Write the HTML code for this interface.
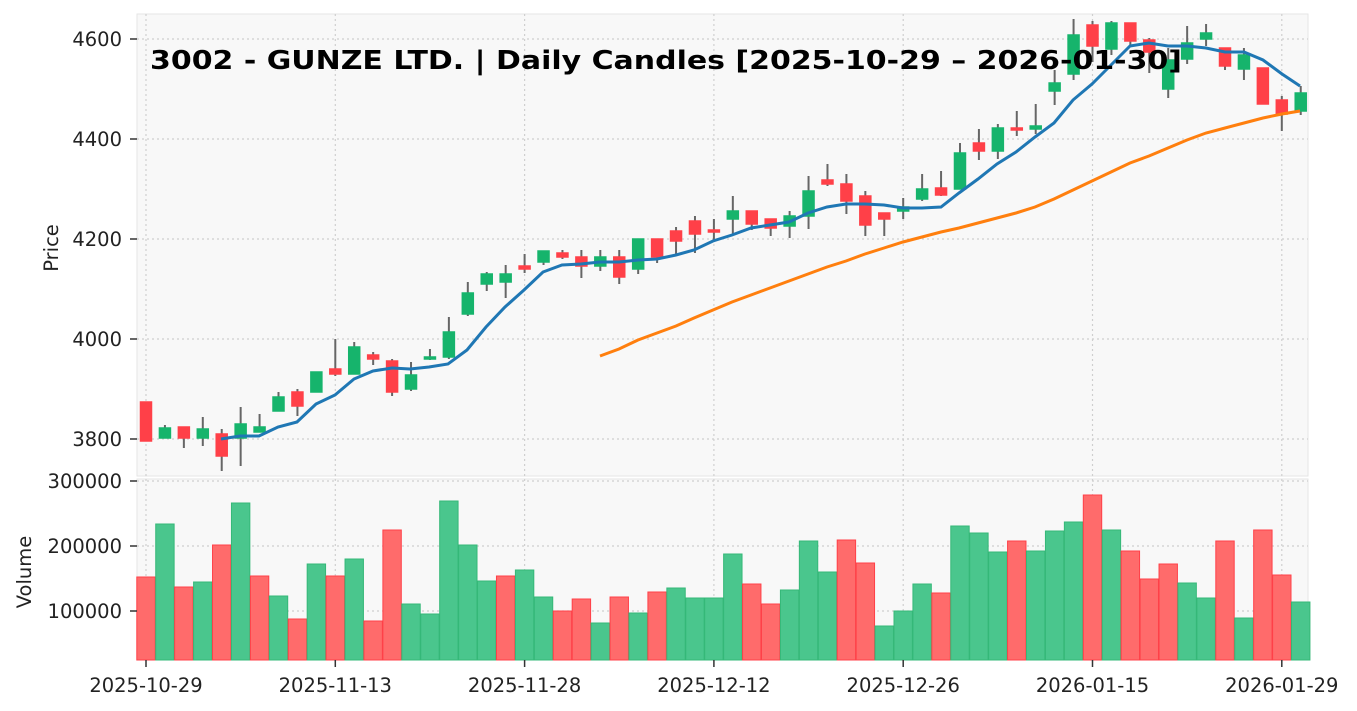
<!DOCTYPE html>
<html><head><meta charset="utf-8"><style>
html,body{margin:0;padding:0;background:#fff;}
svg{display:block;font-family:"DejaVu Sans","Liberation Sans",sans-serif;}
</style></head><body>
<svg id="s" width="1357" height="711" viewBox="0 0 1357 711" xmlns="http://www.w3.org/2000/svg">
<rect x="137" y="14" width="1171" height="462" fill="#f8f8f8" stroke="#e6e6e6"/>
<rect x="137" y="479" width="1171" height="181" fill="#f8f8f8" stroke="#e6e6e6"/>
<g id="grid" stroke="#cfcfcf" stroke-width="1.2" stroke-dasharray="2,3"></g>
<g id="vol"></g>
<g id="cdl"></g>
<polyline id="ma1" fill="none" stroke="#1f77b4" stroke-width="3"/>
<polyline id="ma2" fill="none" stroke="#ff7f0e" stroke-width="3"/>
<g id="lbl" font-size="19.5" fill="#222"></g>
<text x="150" y="69" font-size="26" font-weight="bold" fill="#000" textLength="1032" lengthAdjust="spacingAndGlyphs">3002 - GUNZE LTD. | Daily Candles [2025-10-29 – 2026-01-30]</text>
<text transform="translate(58,248) rotate(-90)" font-size="19.5" text-anchor="middle" fill="#222">Price</text>
<text transform="translate(31,572) rotate(-90)" font-size="19.5" text-anchor="middle" fill="#222">Volume</text>
</svg>
<script>
const NS="http://www.w3.org/2000/svg";
function el(p,t,a,txt){const e=document.createElementNS(NS,t);for(const k in a)e.setAttribute(k,a[k]);if(txt!==undefined)e.textContent=txt;document.getElementById(p).appendChild(e);return e;}
const X=i=>146+i*18.93;
[39,139,239,339,439].forEach(y=>el('grid','line',{x1:137,x2:1308,y1:y,y2:y}));
[481,546,611].forEach(y=>el('grid','line',{x1:137,x2:1308,y1:y,y2:y}));
[0,10,20,30,40,50,60].forEach(i=>{el('grid','line',{x1:X(i),x2:X(i),y1:14,y2:476});el('grid','line',{x1:X(i),x2:X(i),y1:479,y2:660});});
[[39,"4600"],[139,"4400"],[239,"4200"],[339,"4000"],[439,"3800"],[481,"300000"],[546,"200000"],[611,"100000"]].forEach(([y,t])=>{el('lbl','text',{x:122,y:y+7,'text-anchor':'end'},t);el('lbl','line',{x1:130,x2:137,y1:y,y2:y,stroke:'#333','stroke-width':1.5});});
["2025-10-29","2025-11-13","2025-11-28","2025-12-12","2025-12-26","2026-01-15","2026-01-29"].forEach((t,k)=>{const x=X(k*10);el('lbl','text',{x:x,y:692,'text-anchor':'middle'},t);el('lbl','line',{x1:x,x2:x,y1:660,y2:667,stroke:'#333','stroke-width':1.5});});
const C=[[402,441,402,441,0],[428,438,425,438,1],[427,438,427,448,0],[429,438,417,446,1],[434,456,429,471,0],[424,438,407,466,1],[427,432,414,432,1],[397,411,392,411,1],[392,406,389,416,0],[372,392,372,392,1],[369,374,339,376,0],[347,374,342,374,1],[355,359,352,365,0],[361,392,359,396,0],[375,389,362,391,1],[357,359,349,360,1],[332,357,317,359,1],[293,314,282,316,1],[274,284,272,291,1],[274,282,265,298,1],[266,269,254,273,0],[251,262,251,265,1],[253,257,250,259,0],[257,266,250,278,0],[257,266,250,271,1],[257,277,250,284,0],[239,269,239,274,1],[239,257,239,263,0],[231,241,227,254,0],[221,234,216,253,0],[230,231,219,242,0],[211,219,196,234,1],[211,224,211,230,0],[219,228,219,236,0],[216,226,211,238,1],[191,216,176,229,1],[180,184,164,186,0],[184,201,174,214,0],[196,225,191,236,0],[213,219,213,236,0],[207,211,198,219,1],[189,199,174,201,1],[188,195,171,196,0],[153,189,143,189,1],[143,151,129,160,0],[128,151,124,159,1],[128,130,111,136,0],[126,129,104,134,1],[83,91,70,105,1],[35,74,19,80,1],[25,46,21,62,0],[23,49,21,55,1],[23,41,23,45,0],[40,52,38,73,0],[60,89,48,98,1],[43,59,26,64,1],[33,39,24,46,1],[48,66,48,70,0],[55,69,48,80,1],[68,104,68,104,0],[100,114,96,131,0],[93,111,86,115,1]];
C.forEach((c,i)=>{const x=X(i);const col=c[4]?'#16b46c':'#ff4048';
el('cdl','line',{x1:x,x2:x,y1:c[2],y2:c[3],stroke:'#666','stroke-width':2});
el('cdl','rect',{x:x-5.5,y:c[0],width:11,height:Math.max(c[1]-c[0],2),fill:col,stroke:col,'stroke-width':1.5});});
const V=[[577,0],[524,1],[587,0],[582,1],[545,0],[503,1],[576,0],[596,1],[619,0],[564,1],[576,0],[559,1],[621,0],[530,0],[604,1],[614,1],[501,1],[545,1],[581,1],[576,0],[570,1],[597,1],[611,0],[599,0],[623,1],[597,0],[613,1],[592,0],[588,1],[598,1],[598,1],[554,1],[584,0],[604,0],[590,1],[541,1],[572,1],[540,0],[563,0],[626,1],[611,1],[584,1],[593,0],[526,1],[533,1],[552,1],[541,0],[551,1],[531,1],[522,1],[495,0],[530,1],[551,0],[579,0],[564,0],[583,1],[598,1],[541,0],[618,1],[530,0],[575,0],[602,1]];
V.forEach((v,i)=>{const x=X(i);const f=v[1]?'#4ac68d':'#ff6b6b',s=v[1]?'#35b878':'#ff4048';
el('vol','rect',{x:x-9.2,y:v[0],width:18.4,height:660-v[0],fill:f,stroke:s,'stroke-width':1});});
const m1=[[221,439],[240,436],[259,436],[278,427],[297,422],[316,404],[335,395],[354,379],[373,371],[392,368],[410,369],[429,367],[448,364],[467,350],[486,327],[505,307],[524,290],[543,272],[562,265],[581,264],[600,262],[619,262],[638,260],[657,259],[676,255],[694,250],[713,241],[732,235],[751,228],[770,225],[789,222],[808,213],[827,207],[846,204],[865,204],[884,205],[903,208],[922,208],[941,207],[959,193],[978,179],[997,164],[1016,152],[1035,137],[1054,123],[1073,100],[1092,84],[1111,65],[1130,46],[1149,43],[1168,46],[1187,46],[1206,48],[1225,52],[1244,52],[1263,60],[1282,74],[1300,86]];
const m2=[[600,356],[619,349],[638,340],[657,333],[676,326],[694,318],[713,310],[732,302],[751,295],[770,288],[789,281],[808,274],[827,267],[846,261],[865,254],[884,248],[903,242],[922,237],[941,232],[959,228],[978,223],[997,218],[1016,213],[1035,207],[1054,199],[1073,190],[1092,181],[1111,172],[1130,163],[1149,156],[1168,148],[1187,140],[1206,133],[1225,128],[1244,123],[1263,118],[1282,114],[1300,111]];
document.getElementById('ma1').setAttribute('points',m1.map(p=>p.join(',')).join(' '));
document.getElementById('ma2').setAttribute('points',m2.map(p=>p.join(',')).join(' '));
</script>
</body></html>
